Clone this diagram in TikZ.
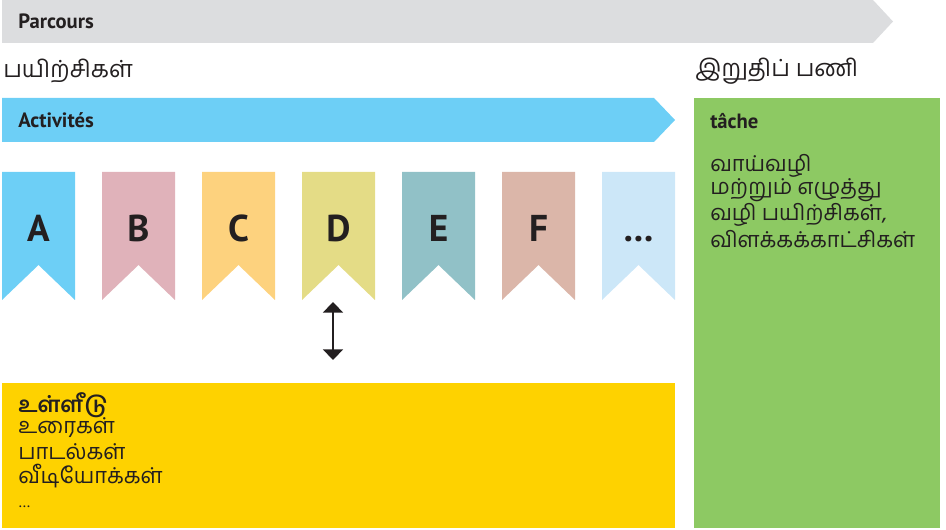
\documentclass[tikz,border=0pt]{standalone}
\usepackage{fontspec}
\setmainfont{PT Sans}
\newfontfamily\tamil[Script=Tamil]{Hind Madurai}
\usetikzlibrary{arrows.meta}
\definecolor{ink}{HTML}{231F20}
\definecolor{cgray}{HTML}{DCDDDF}
\definecolor{cblue}{HTML}{6DCFF6}
\definecolor{cgreen}{HTML}{8DC963}
\definecolor{cyellow}{HTML}{FED200}
\definecolor{bA}{HTML}{6DCFF6}
\definecolor{bB}{HTML}{E0B2BA}
\definecolor{bC}{HTML}{FDD27E}
\definecolor{bD}{HTML}{E4DC86}
\definecolor{bE}{HTML}{91C1C7}
\definecolor{bF}{HTML}{DBB6A9}
\definecolor{bG}{HTML}{CCE7F8}
\tikzset{
  bartext/.style={anchor=west, inner sep=0pt, text=ink, font=\bfseries\fontsize{15.5}{17}\selectfont},
  tamilhead/.style={anchor=west, inner sep=0pt, text=ink, font=\tamil\fontsize{17.7}{20}\selectfont},
  tamilbody/.style={anchor=west, inner sep=0pt, text=ink, font=\tamil\fontsize{16.4}{18}\selectfont},
  letter/.style={anchor=base, inner sep=0pt, text=ink, font=\bfseries\fontsize{28}{30}\selectfont},
  dblarrow/.style={draw=ink, line width=1.5pt, {Triangle[width=15pt,length=8pt]}-{Triangle[width=15pt,length=8pt]}},
}
\begin{document}
\begin{tikzpicture}[x=0.75pt,y=-0.75pt]
\useasboundingbox (0,0) rectangle (946,530);
% top bar
\fill[cgray] (2,0) -- (873,0) -- (893,21.5) -- (873,43) -- (2,43) -- cycle;
\node[bartext] (parcours) at (18,21.5) {Parcours};
% headings
\node[tamilhead] (pay) at (3,71) {பயிற்சிகள்};
\node[tamilhead] (iru) at (695,71) {இறுதிப் பணி};
% activities bar
\fill[cblue] (2,98) -- (654,98) -- (675,120) -- (654,142) -- (2,142) -- cycle;
\node[bartext] (act) at (18,120) {Activités};
% green box
\fill[cgreen] (694,98) rectangle (940,528);
\node[bartext] (tache) at (710,121) {tâche};
\node[tamilbody] (g1) at (710,166) {வாய்வழி};
\node[tamilbody] (g2) at (710,190.5) {மற்றும் எழுத்து};
\node[tamilbody] (g3) at (710,215) {வழி பயிற்சிகள்,};
\node[tamilbody] (g4) at (710,239.5) {விளக்கக்காட்சிகள்};
% banners
\foreach \x/\c/\l/\n in {2/bA/A/a, 102/bB/B/b, 202/bC/C/c, 302/bD/D/d, 402/bE/E/e, 502/bF/F/f, 602/bG/\ldots/g}{
  \fill[\c] (\x,172) -- ++(73,0) -- ++(0,128) -- ++(-36.5,-35) -- ++(-36.5,35) -- cycle;
  \node[letter] (ban\n) at (\x+36.5,242) {\l};
}
% arrow
\coordinate (arrtop) at (333,302);
\coordinate (arrbot) at (333,360);
\draw[dblarrow] (arrtop) -- (arrbot);
% yellow box
\fill[cyellow] (2,383) rectangle (675,528);
\node[tamilbody, font=\tamil\bfseries\fontsize{16.4}{18}\selectfont] (y1) at (18,405) {உள்ளீடு};
\node[tamilbody] (y2) at (18,428) {உரைகள்};
\node[tamilbody] (y3) at (18,452) {பாடல்கள்};
\node[tamilbody] (y4) at (18,476) {வீடியோக்கள்};
\node[anchor=base west, inner sep=0pt, text=ink, font=\fontsize{12}{14}\selectfont] (y5) at (18,508) {\ldots};
\end{tikzpicture}
\end{document}
